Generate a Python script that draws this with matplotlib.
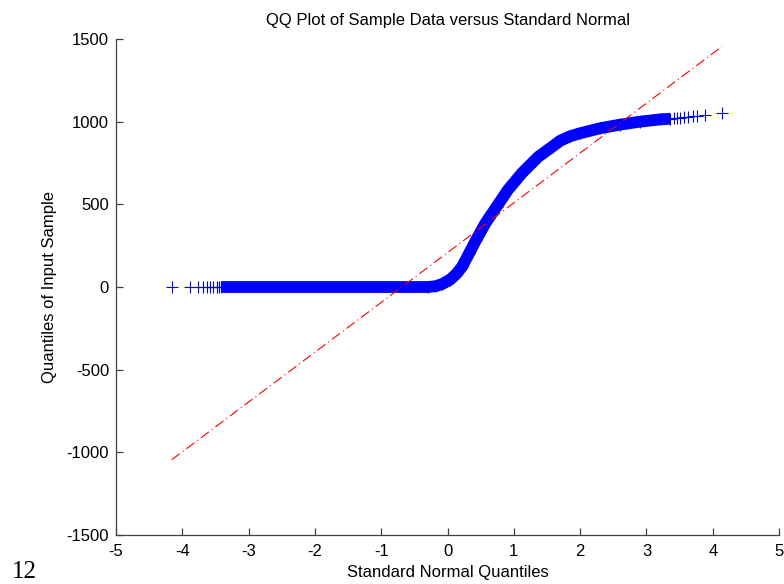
import numpy as np
import matplotlib
matplotlib.use("Agg")
import matplotlib.pyplot as plt

plt.rcParams['font.family'] = ['Liberation Sans', 'DejaVu Sans']

# dense middle part of the sample quantiles
band_x = [-3.41, -0.30, -0.18, -0.08, 0.04, 0.13, 0.22, 0.32, 0.43, 0.57, 0.74, 0.91, 1.12,
          1.37, 1.58, 1.70, 1.85, 2.00, 2.30, 2.60, 2.90, 3.21, 3.36]
band_y = [0, 0, 5, 18, 45, 78, 123, 200, 284, 385, 486, 587, 688,
          788, 849, 885, 912, 930, 960, 982, 1000, 1014, 1018]

# sparse tails
left_tail_x = [-4.16, -3.88, -3.77, -3.69, -3.63, -3.58, -3.53, -3.48, -3.44]
left_tail_y = [0, 0, 0, 0, 0, 0, 0, 0, 0]
right_tail_x = [3.41, 3.46, 3.51, 3.57, 3.63, 3.70, 3.76, 3.88, 4.14]
right_tail_y = [1020, 1022, 1024, 1027, 1030, 1033, 1037, 1042, 1052]

# reference line end points
ref_x = [-4.16, 4.14]
ref_y = [-1045, 1455]

xticks = [-5, -4, -3, -2, -1, 0, 1, 2, 3, 4, 5]
yticks = [-1500, -1000, -500, 0, 500, 1000, 1500]

fig = plt.figure(figsize=(7.84, 5.84), dpi=100)
ax = fig.add_axes([0.148, 0.0839, 0.8457, 0.8493])

blue = (0, 0, 1)
# overlapping markers form a solid band
ax.plot(band_x, band_y, color=blue, lw=8.5, solid_capstyle='butt',
        solid_joinstyle='round', zorder=2)
ax.plot(band_x, band_y, ls='none', marker='+', ms=8, mew=0.8, color=blue, zorder=2)
ax.plot(left_tail_x, left_tail_y, ls='none', marker='+', ms=8, mew=0.8, color=blue, zorder=2)
ax.plot(right_tail_x, right_tail_y, ls='none', marker='+', ms=8, mew=0.8, color=blue, zorder=2)

ax.plot(ref_x, ref_y, color='red', lw=0.8, ls=(0, (9, 3.2, 1, 3.2)), zorder=3)

ax.set_xlim(-5, 5)
ax.set_ylim(-1500, 1500)
ax.set_xticks(xticks)
ax.set_yticks(yticks)
ax.set_xticklabels([str(v) for v in xticks])
ax.set_yticklabels([str(v) for v in yticks])

for s in ['top', 'right']:
    ax.spines[s].set_visible(False)
for s in ['left', 'bottom']:
    ax.spines[s].set_color('#404040')
    ax.spines[s].set_linewidth(0.9)

ax.tick_params(axis='both', direction='in', length=5, width=0.9,
               color='#404040', labelsize=12, labelcolor='black')
ax.tick_params(axis='x', pad=6.5)
ax.tick_params(axis='y', pad=5)

ax.set_xlabel('Standard Normal Quantiles', fontsize=12, labelpad=4)
ax.set_ylabel('Quantiles of Input Sample', fontsize=12, labelpad=7)
ax.set_title('QQ Plot of Sample Data versus Standard Normal', fontsize=12, pad=10)

fig.text(12 / 784, 1 - 578 / 584, '12', fontfamily='Liberation Serif',
         fontsize=18, va='baseline', ha='left')

fig.savefig('out.png', dpi=100)
